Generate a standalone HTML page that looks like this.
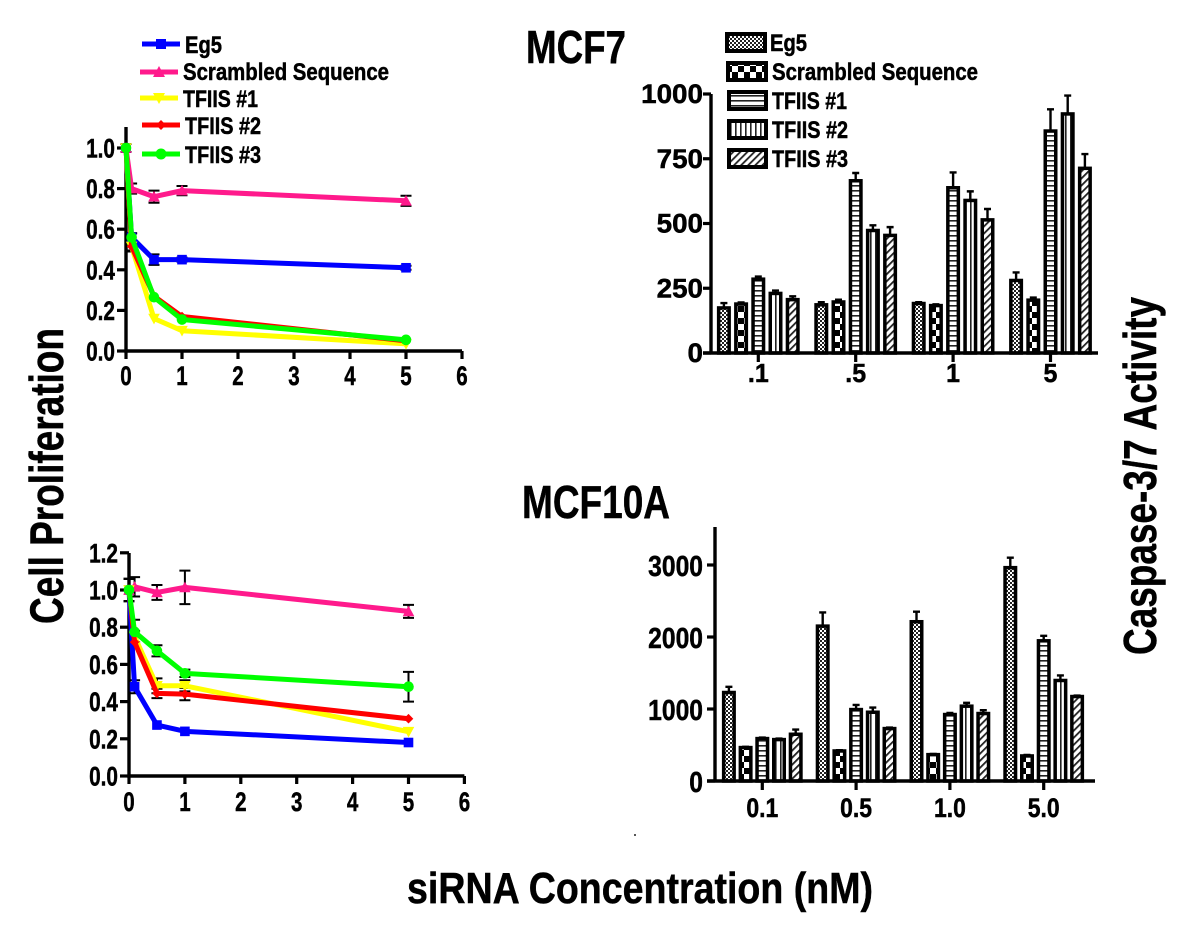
<!DOCTYPE html>
<html lang="en">
<head>
<meta charset="utf-8">
<title>Cell Proliferation and Caspase-3/7 Activity</title>
<style>
html,body{margin:0;padding:0;background:#fff;}
svg{display:block;}
text{font-family:"Liberation Sans",sans-serif;font-weight:bold;fill:#000;stroke:#000;stroke-width:.5px;}
</style>
</head>
<body>
<svg id="fig" xmlns="http://www.w3.org/2000/svg" width="1200" height="932" viewBox="0 0 1200 932">
<defs>
<pattern id="p-eg5" width="4" height="4" patternUnits="userSpaceOnUse"><rect width="4" height="4" fill="#fff"/><rect width="2" height="2" fill="#222"/><rect x="2" y="2" width="2" height="2" fill="#222"/></pattern>
<pattern id="p-scr" width="12" height="12" patternUnits="userSpaceOnUse"><rect width="12" height="12" fill="#fff"/><rect width="6" height="6" fill="#000"/><rect x="6" y="6" width="6" height="6" fill="#000"/></pattern>
<pattern id="p-t1" width="5" height="5" patternUnits="userSpaceOnUse"><rect width="5" height="5" fill="#fff"/><rect width="5" height="1.6" fill="#222"/></pattern>
<pattern id="p-t2" width="5" height="5" patternUnits="userSpaceOnUse"><rect width="5" height="5" fill="#fff"/><rect width="1.6" height="5" fill="#222"/></pattern>
<pattern id="p-t3" width="5" height="5" patternUnits="userSpaceOnUse" patternTransform="rotate(45)"><rect width="5" height="5" fill="#fff"/><rect width="1.8" height="5" fill="#222"/></pattern>
</defs>

<text x="526" y="63" font-size="46" textLength="100" lengthAdjust="spacingAndGlyphs">MCF7</text>
<text x="522" y="518" font-size="46" textLength="148" lengthAdjust="spacingAndGlyphs">MCF10A</text>
<text transform="translate(63 624) rotate(-90)" font-size="47" textLength="296" lengthAdjust="spacingAndGlyphs">Cell Proliferation</text>
<text transform="translate(1156 655) rotate(-90)" font-size="46" textLength="358" lengthAdjust="spacingAndGlyphs">Caspase-3/7 Activity</text>
<text x="407" y="903" font-size="44" textLength="466" lengthAdjust="spacingAndGlyphs">siRNA Concentration (nM)</text>
<circle cx="635" cy="835" r="1" fill="#222"/>

<g id="line-top"></g>
<g id="line-bottom"></g>
<g id="bar-top"></g>
<g id="bar-bottom"></g>
<g id="legend-lines"></g>
<g id="legend-bars"></g>
</svg>

<script>
// ---------- shared data ----------
const seriesNames = ['Eg5', 'Scrambled Sequence', 'TFIIS #1', 'TFIIS #2', 'TFIIS #3'];
const seriesKeys = ['eg5', 'scrambled', 'tfiis-1', 'tfiis-2', 'tfiis-3'];
const seriesColors = ['#0000ff', '#ff1a8c', '#ffff00', '#ff0000', '#00ff00'];
const seriesPatterns = ['p-eg5', 'p-scr', 'p-t1', 'p-t2', 'p-t3'];

// ---------- line chart MCF7 ----------
const concentrations = [0, 0.1, 0.5, 1, 5];
const lineTopXTicks = [0, 1, 2, 3, 4, 5, 6];
const lineTopYTicks = ['0.0', '0.2', '0.4', '0.6', '0.8', '1.0'];
const lineTopEg5 = [1.0, 0.56, 0.45, 0.45, 0.41];
const lineTopScr = [1.0, 0.80, 0.76, 0.79, 0.74];
const lineTopT1 = [1.0, 0.515, 0.16, 0.10, 0.035];
const lineTopT2 = [1.0, 0.515, 0.27, 0.17, 0.05];
const lineTopT3 = [1.0, 0.56, 0.265, 0.155, 0.055];
const lineTopEg5Err = [0.02, 0.02, 0.026, 0.01, 0.01];
const lineTopScrErr = [0.02, 0.025, 0.03, 0.023, 0.025];
const lineTopT1Err = [0.02, 0.02, 0, 0, 0];
const lineTopT2Err = [0.02, 0.025, 0, 0, 0];
const lineTopT3Err = [0.02, 0.02, 0, 0, 0];

// ---------- line chart MCF10A ----------
const lineBottomXTicks = [0, 1, 2, 3, 4, 5, 6];
const lineBottomYTicks = ['0.0', '0.2', '0.4', '0.6', '0.8', '1.0', '1.2'];
const lineBottomEg5 = [1.0, 0.48, 0.274, 0.24, 0.18];
const lineBottomScr = [1.0, 1.017, 0.987, 1.014, 0.885];
const lineBottomT1 = [1.0, 0.75, 0.485, 0.485, 0.238];
const lineBottomT2 = [1.0, 0.72, 0.444, 0.44, 0.308];
const lineBottomT3 = [1.0, 0.775, 0.673, 0.552, 0.48];
const lineBottomEg5Err = [0.06, 0.035, 0, 0, 0];
const lineBottomScrErr = [0.06, 0.052, 0.04, 0.09, 0.035];
const lineBottomT1Err = [0.06, 0.03, 0.04, 0.03, 0];
const lineBottomT2Err = [0.06, 0.03, 0.025, 0.033, 0];
const lineBottomT3Err = [0.06, 0.065, 0.03, 0.02, 0.08];

// ---------- bar chart MCF7 ----------
const barTopCategories = ['.1', '.5', '1', '5'];
const barTopYTicks = [0, 250, 500, 750, 1000];
const barTopEg5 = [174, 186, 191, 280];
const barTopScr = [189, 197, 183, 204];
const barTopT1 = [285, 665, 638, 857];
const barTopT2 = [230, 473, 589, 923];
const barTopT3 = [206, 454, 514, 713];
const barTopEg5Err = [19, 10, 5, 31];
const barTopScrErr = [6, 9, 5, 10];
const barTopT1Err = [10, 30, 59, 84];
const barTopT2Err = [11, 20, 35, 71];
const barTopT3Err = [13, 32, 42, 55];

// ---------- bar chart MCF10A ----------
const barBottomCategories = ['0.1', '0.5', '1.0', '5.0'];
const barBottomYTicks = [0, 1000, 2000, 3000];
const barBottomEg5 = [1229, 2151, 2212, 2963];
const barBottomScr = [464, 417, 366, 348];
const barBottomT1 = [589, 992, 923, 1947];
const barBottomT2 = [575, 955, 1039, 1396];
const barBottomT3 = [649, 728, 937, 1173];
const barBottomEg5Err = [79, 190, 140, 139];
const barBottomScrErr = [10, 10, 10, 14];
const barBottomT1Err = [14, 65, 23, 70];
const barBottomT2Err = [14, 65, 46, 70];
const barBottomT3Err = [65, 14, 46, 14];

// ---------- helpers ----------
const NS = 'http://www.w3.org/2000/svg';
function el(parent, tag, attrs) {
  const n = document.createElementNS(NS, tag);
  for (const k in attrs) n.setAttribute(k, attrs[k]);
  parent.appendChild(n);
  return n;
}
function naturalWidth(label, size) {
  let w = 0;
  for (const c of String(label)) w += (c === '.' ? 0.278 : 0.556) * size;
  return w;
}
// text with a horizontal squeeze; anchor: 'end' | 'middle'
function scaledText(parent, label, x, y, size, sx, anchor) {
  const w = naturalWidth(label, size) * sx;
  const startX = anchor === 'end' ? x - w : x - w / 2;
  const t = el(parent, 'text', {x: startX, y: y, 'font-size': size, textLength: w, lengthAdjust: 'spacingAndGlyphs'});
  t.textContent = label;
  return t;
}
function marker(parent, i, x, y, r) {
  let m;
  if (i === 0) m = el(parent, 'rect', {x: x - r, y: y - r, width: 2 * r, height: 2 * r, fill: seriesColors[i]});
  else if (i === 1) m = el(parent, 'polygon', {points: [x, y - r - 1, x + r + 1, y + r, x - r - 1, y + r].join(','), fill: seriesColors[i]});
  else if (i === 2) m = el(parent, 'polygon', {points: [x, y + r + 1, x + r + 1, y - r, x - r - 1, y - r].join(','), fill: seriesColors[i]});
  else if (i === 3) m = el(parent, 'polygon', {points: [x, y - r, x + r, y, x, y + r, x - r, y].join(','), fill: seriesColors[i]});
  else m = el(parent, 'circle', {cx: x, cy: y, r: r + 0.5, fill: seriesColors[i]});
  return m;
}

// ---------- line charts ----------
function drawLineChart(id, cfg) {
  const g = document.getElementById(id);
  const sx = v => cfg.x0 + v * cfg.xUnit;
  const sy = v => cfg.y0 - v * cfg.yUnit;

  cfg.values.forEach((vals, s) => {
    const errs = cfg.errors[s];
    const eg = el(g, 'g', {stroke: '#000', 'stroke-width': 2, fill: 'none'});
    
    
    vals.forEach((v, i) => {
      if (!errs[i]) return;
      const x = sx(concentrations[i]);
      el(eg, 'path', {d: `M${x} ${sy(v + errs[i])}V${sy(v - errs[i])}M${x - 5.5} ${sy(v + errs[i])}h11M${x - 5.5} ${sy(v - errs[i])}h11`});
    });
  });
  const axis = el(g, 'path', {
    d: `M${cfg.x0} ${cfg.yTop}V${cfg.y0}H${sx(cfg.xTicks[cfg.xTicks.length - 1])}`,
    stroke: '#000', 'stroke-width': 3.4, fill: 'none'
  });
  
  

  cfg.xTicks.forEach(t => {
    const tick = el(g, 'line', {x1: sx(t), x2: sx(t), y1: cfg.y0, y2: cfg.y0 + 8, stroke: '#000', 'stroke-width': 3.2});
    
    
    const lab = scaledText(g, t, sx(t), cfg.xLabelY, 27, 0.76, 'middle');
    
    
  });
  cfg.yTicks.forEach(t => {
    const y = sy(parseFloat(t));
    const tick = el(g, 'line', {x1: cfg.x0 - 9, x2: cfg.x0, y1: y, y2: y, stroke: '#000', 'stroke-width': 3.2});
    
    
    const lab = scaledText(g, t, cfg.x0 - 11, y + 9.5, 27, 0.77, 'end');
    
    
  });
  cfg.values.forEach((vals, s) => {
    const sg = el(g, 'g', {});
    
    
    const pts = vals.map((v, i) => sx(concentrations[i]) + ',' + sy(v)).join(' ');
    el(sg, 'polyline', {points: pts, fill: 'none', stroke: seriesColors[s], 'stroke-width': 5, 'stroke-linejoin': 'round'});
    vals.forEach((v, i) => marker(sg, s, sx(concentrations[i]), sy(v), 4.8));
  });
}
drawLineChart('line-top', {
  x0: 126, y0: 351, xUnit: 56, yUnit: 203, yTop: 127, xLabelY: 385,
  xTicks: lineTopXTicks, yTicks: lineTopYTicks,
  values: [lineTopEg5, lineTopScr, lineTopT1, lineTopT2, lineTopT3],
  errors: [lineTopEg5Err, lineTopScrErr, lineTopT1Err, lineTopT2Err, lineTopT3Err]
});
drawLineChart('line-bottom', {
  x0: 129, y0: 776, xUnit: 55.9, yUnit: 186, yTop: 553, xLabelY: 811,
  xTicks: lineBottomXTicks, yTicks: lineBottomYTicks,
  values: [lineBottomEg5, lineBottomScr, lineBottomT1, lineBottomT2, lineBottomT3],
  errors: [lineBottomEg5Err, lineBottomScrErr, lineBottomT1Err, lineBottomT2Err, lineBottomT3Err]
});

// ---------- bar charts ----------
function drawBarChart(id, cfg) {
  const g = document.getElementById(id);
  const groupX = i => cfg.firstGroup + i * cfg.groupPitch;
  const barX = (i, s) => groupX(i) + (s - 2) * cfg.barPitch;
  const sy = v => cfg.y0 - v * cfg.yUnit;
  cfg.values.forEach((vals, s) => {
    vals.forEach((v, i) => {
      const x = barX(i, s);
      const e = cfg.errors[s][i];
      const err = el(g, 'path', {d: `M${x} ${sy(v)}V${sy(v + e)}M${x - 3.5} ${sy(v + e)}h7`, stroke: '#000', 'stroke-width': 2.4, fill: 'none'});
      
      
      const w = cfg.barWidth;
      const bar = el(g, 'rect', {x: x - w / 2 + 1.75, y: sy(v), width: w - 3.5, height: cfg.y0 - sy(v), fill: 'url(#' + seriesPatterns[s] + ')', stroke: '#000', 'stroke-width': 3.5});
      
      
    });
  });
  const yAxis = el(g, 'line', {x1: cfg.x0, x2: cfg.x0, y1: cfg.yTop, y2: cfg.y0, stroke: '#000', 'stroke-width': 3.4});
  
  
  const xAxis = el(g, 'line', {x1: cfg.x0 - 8, x2: cfg.xEnd, y1: cfg.y0, y2: cfg.y0, stroke: '#000', 'stroke-width': 3.4});
  
  
  cfg.yTicks.forEach(t => {
    const tick = el(g, 'line', {x1: cfg.x0 - 8, x2: cfg.x0, y1: sy(t), y2: sy(t), stroke: '#000', 'stroke-width': 3.2});
    
    
    const lab = scaledText(g, t, 703, sy(t) + cfg.yLabelDy, cfg.yFont, cfg.yScale, 'end');
    
    
  });
  cfg.categories.forEach((c, i) => {
    const tick = el(g, 'line', {x1: groupX(i), x2: groupX(i), y1: cfg.y0, y2: cfg.y0 + 9, stroke: '#000', 'stroke-width': 3.2});
    
    
    const lab = scaledText(g, c, groupX(i), cfg.xLabelY, cfg.xFont, cfg.xScale, 'middle');
    
    
  });
}
drawBarChart('bar-top', {
  x0: 711, y0: 353, yUnit: 0.259, yTop: 94, xEnd: 1098,
  firstGroup: 758.3, groupPitch: 97.4, barPitch: 17.2, barWidth: 14,
  categories: barTopCategories, yTicks: barTopYTicks,
  yLabelDy: 9, yFont: 27, yScale: 1.03, xLabelY: 382, xFont: 26, xScale: 0.96,
  values: [barTopEg5, barTopScr, barTopT1, barTopT2, barTopT3],
  errors: [barTopEg5Err, barTopScrErr, barTopT1Err, barTopT2Err, barTopT3Err]
});
drawBarChart('bar-bottom', {
  x0: 715, y0: 781, yUnit: 0.072, yTop: 527, xEnd: 1095,
  firstGroup: 762.3, groupPitch: 93.8, barPitch: 16.7, barWidth: 14,
  categories: barBottomCategories, yTicks: barBottomYTicks,
  yLabelDy: 11, yFont: 29, yScale: 0.85, xLabelY: 817, xFont: 27, xScale: 0.85,
  values: [barBottomEg5, barBottomScr, barBottomT1, barBottomT2, barBottomT3],
  errors: [barBottomEg5Err, barBottomScrErr, barBottomT1Err, barBottomT2Err, barBottomT3Err]
});

// ---------- legends ----------
const lineLegendG = document.getElementById('legend-lines');
const lineLegendRows = [[142, 44, 185, 53, 37], [140, 72, 183, 80, 206], [140, 98, 183, 107, 75], [142, 125, 185, 134, 76], [142, 154, 185, 163, 76]];
seriesNames.forEach((name, s) => {
  const [lx, ly, tx, ty, tw] = lineLegendRows[s];
  const row = el(lineLegendG, 'g', {});
  
  
  el(row, 'line', {x1: lx, x2: lx + 38, y1: ly, y2: ly, stroke: seriesColors[s], 'stroke-width': 5});
  marker(row, s, lx + 19, ly, 5);
  const t = el(row, 'text', {x: tx, y: ty, 'font-size': 24, textLength: tw, lengthAdjust: 'spacingAndGlyphs'});
  t.textContent = name;
});
const barLegendG = document.getElementById('legend-bars');
const barLegendRows = [[725, 32, 42, 770, 51, 37], [726, 61, 42, 772, 80, 206], [727, 90, 41, 772, 109, 75], [727, 119, 41, 772, 138, 76], [727, 148, 41, 772, 167, 76]];
seriesNames.forEach((name, s) => {
  const [bx, by, bw, tx, ty, tw] = barLegendRows[s];
  const row = el(barLegendG, 'g', {});
  
  
  el(row, 'rect', {x: bx + 2, y: by + 2, width: bw - 4, height: 17, fill: 'url(#' + seriesPatterns[s] + ')', stroke: '#000', 'stroke-width': 4});
  const t = el(row, 'text', {x: tx, y: ty, 'font-size': 24, textLength: tw, lengthAdjust: 'spacingAndGlyphs'});
  t.textContent = name;
});
</script>
</body>
</html>
